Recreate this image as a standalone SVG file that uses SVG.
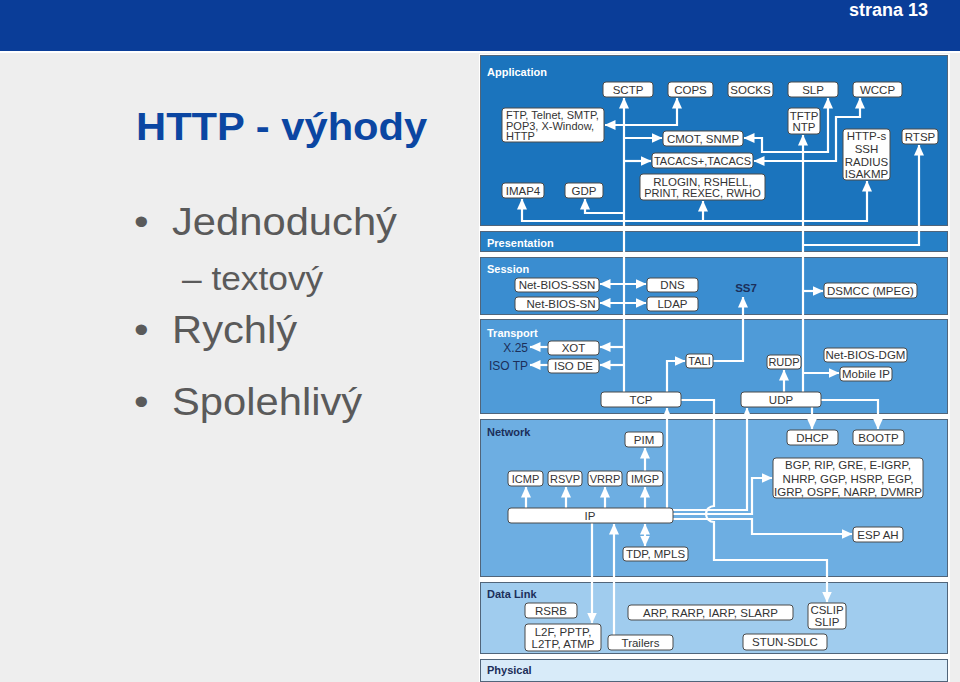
<svg xmlns="http://www.w3.org/2000/svg" width="960" height="682" viewBox="0 0 960 682">
<defs>
<marker id="ah" markerUnits="userSpaceOnUse" markerWidth="11" markerHeight="10" refX="10.5" refY="5" orient="auto-start-reverse" viewBox="0 0 11 10"><path d="M0,0 L11,5 L0,10 z" fill="#fff"/></marker>
</defs>
<style>
.lay{stroke:#51657a;stroke-width:1}
.ll{font-family:"Liberation Sans",Arial,sans-serif;font-size:11px;font-weight:bold}
.w{fill:#fff}
.n{fill:#1c2f5a}
.b{fill:#fff;stroke:#4a4a4a;stroke-width:1}
.t{font-family:"Liberation Sans",Arial,sans-serif;font-size:11.5px;fill:#333;text-anchor:middle}
.s{font-size:11px}
.tl{text-anchor:start}
.tr{text-anchor:end;fill:#1c2f5a;font-size:12px}
#connectors path{fill:none;stroke:#fff;stroke-width:2.2}
#connectors path.a{marker-end:url(#ah)}
#connectors path.d{marker-start:url(#ah);marker-end:url(#ah)}
.big{font-family:"Liberation Sans",Arial,sans-serif;fill:#5a5a5a}
</style>
<rect x="0" y="0" width="960" height="682" fill="#eeeeee"/>
<rect x="0" y="0" width="960" height="51" fill="#0a3d98"/>
<rect x="0" y="51" width="960" height="2" fill="#ffffff"/>
<text x="928" y="16" font-family="Liberation Sans, Arial, sans-serif" font-size="18" font-weight="bold" fill="#fff" text-anchor="end">strana 13</text>

<g id="slide-text">
<text transform="translate(136,140) scale(1.07,1)" font-family="Liberation Sans, Arial, sans-serif" font-weight="bold" font-size="39" fill="#0b46a2">HTTP - výhody</text>
<text class="big" transform="translate(134,235) scale(1.07,1)" font-size="39">•</text>
<text class="big" transform="translate(172,235) scale(1.07,1)" font-size="39">Jednoduchý</text>
<text class="big" transform="translate(182,290) scale(1.07,1)" font-size="33">– textový</text>
<text class="big" transform="translate(134,343) scale(1.07,1)" font-size="39">•</text>
<text class="big" transform="translate(172,343) scale(1.07,1)" font-size="39">Rychlý</text>
<text class="big" transform="translate(134,415) scale(1.07,1)" font-size="39">•</text>
<text class="big" transform="translate(172,415) scale(1.07,1)" font-size="39">Spolehlivý</text>
</g>

<g id="layers">
<rect x="479" y="54" width="471" height="628" fill="#ffffff"/>
<rect class="lay" x="480.5" y="55.5" width="467" height="170" fill="#1b74bd"/>
<rect class="lay" x="480.5" y="231.5" width="467" height="20" fill="#2680c6"/>
<rect class="lay" x="480.5" y="257.5" width="467" height="57" fill="#3a8dd0"/>
<rect class="lay" x="480.5" y="319.5" width="467" height="94" fill="#4f9bd8"/>
<rect class="lay" x="480.5" y="419.5" width="467" height="157" fill="#6daee2"/>
<rect class="lay" x="480.5" y="582.5" width="467" height="71" fill="#a0ccee"/>
<rect class="lay" x="480.5" y="659.5" width="467" height="22" fill="#d8ebf9"/>
<text class="ll w" x="487" y="76">Application</text>
<text class="ll w" x="487" y="247">Presentation</text>
<text class="ll w" x="487" y="273">Session</text>
<text class="ll w" x="487" y="337">Transport</text>
<text class="ll n" x="487" y="436">Network</text>
<text class="ll n" x="487" y="598">Data Link</text>
<text class="ll n" x="487" y="674">Physical</text>
</g>

<g id="connectors">
<path class="a" d="M624,392 V98"/>
<path class="d" d="M605,125 H677 V98"/>
<path class="a" d="M624,138 H662"/>
<path class="a" d="M624,161 H651"/>
<path class="a" d="M624,213 H585 V199"/>
<path class="d" d="M522,199 V221 H867 V181"/>
<path class="a" d="M703,221 V201"/>
<path class="d" d="M744,138 H762 V152 H828 V98"/>
<path class="d" d="M754,161 H836 V117 H860 V98"/>
<path class="a" d="M803,392 V135"/>
<path class="a" d="M803,245 H919 V145"/>
<path class="d" d="M600,284 H646"/>
<path class="d" d="M600,303 H646"/>
<path class="a" d="M803,291 H823"/>
<path class="a" d="M624,347 H600"/>
<path class="a" d="M548,347 H530"/>
<path class="a" d="M624,365 H600"/>
<path class="a" d="M548,365 H530"/>
<path class="a" d="M667,392 V361 H685"/>
<path class="a" d="M713,361 H743 V297"/>
<path class="a" d="M784,392 V370"/>
<path class="a" d="M803,373 H839"/>
<path class="a" d="M667,508 V408"/>
<path class="a" d="M673,510 H747 V408"/>
<path class="a" d="M812,407 V429"/>
<path class="a" d="M821,400 H878 V429"/>
<path class="a" d="M681,400 H714 V506 A8,8 0 0 0 714,522 V560 H827 V602"/>
<path class="a" d="M673,514 H752 V478 H772"/>
<path class="a" d="M673,519 H752 V534 H852"/>
<path class="a" d="M526,508 V487"/>
<path class="a" d="M566,508 V487"/>
<path class="a" d="M605,508 V487"/>
<path class="a" d="M645,508 V487"/>
<path class="a" d="M645,471 V448"/>
<path class="d" d="M645,524 V546"/>
<path class="a" d="M592,523 V623"/>
<path class="a" d="M614,635 V524"/>
</g>

<g id="n-sctp"><rect class="b" x="603" y="82" width="50" height="15" rx="3"/><text class="t" x="628" y="93.5">SCTP</text></g>
<g id="n-cops"><rect class="b" x="668" y="82" width="45" height="15" rx="3"/><text class="t" x="690.5" y="93.5">COPS</text></g>
<g id="n-socks"><rect class="b" x="728" y="82" width="45" height="15" rx="3"/><text class="t" x="750.5" y="93.5">SOCKS</text></g>
<g id="n-slp"><rect class="b" x="788" y="82" width="50" height="15" rx="3"/><text class="t" x="813" y="93.5">SLP</text></g>
<g id="n-wccp"><rect class="b" x="853" y="82" width="49" height="15" rx="3"/><text class="t" x="877.5" y="93.5">WCCP</text></g>
<g id="n-ftp"><rect class="b" x="502" y="108" width="102" height="34" rx="3"/><text class="t tl s" x="506" y="118.5">FTP, Telnet, SMTP,</text><text class="t tl s" x="506" y="129.5">POP3, X-Window,</text><text class="t tl s" x="506" y="140">HTTP</text></g>
<g id="n-cmot"><rect class="b" x="663" y="131" width="80" height="15" rx="3"/><text class="t" x="703" y="142.5">CMOT, SNMP</text></g>
<g id="n-tacacs"><rect class="b" x="652" y="153" width="101" height="15" rx="3"/><text class="t s" x="702.5" y="164.5">TACACS+,TACACS</text></g>
<g id="n-rlogin"><rect class="b" x="640" y="174" width="125" height="26" rx="3"/><text class="t" x="702.5" y="185.5">RLOGIN, RSHELL,</text><text class="t s" x="702.5" y="197">PRINT, REXEC, RWHO</text></g>
<g id="n-imap4"><rect class="b" x="502" y="183" width="42" height="15" rx="3"/><text class="t" x="523" y="194.5">IMAP4</text></g>
<g id="n-gdp"><rect class="b" x="565" y="183" width="38" height="15" rx="3"/><text class="t" x="584" y="194.5">GDP</text></g>
<g id="n-tftp"><rect class="b" x="788" y="108" width="32" height="26" rx="3"/><text class="t" x="804" y="119.5">TFTP</text><text class="t" x="804" y="131">NTP</text></g>
<g id="n-https"><rect class="b" x="843" y="129" width="47" height="51" rx="3"/><text class="t" x="866.5" y="139.5">HTTP-s</text><text class="t" x="866.5" y="152.5">SSH</text><text class="t" x="866.5" y="165.5">RADIUS</text><text class="t" x="866.5" y="178">ISAKMP</text></g>
<g id="n-rtsp"><rect class="b" x="902" y="129" width="36" height="15" rx="3"/><text class="t" x="920" y="140.5">RTSP</text></g>

<g id="n-nbssn"><rect class="b" x="515" y="278" width="84" height="14" rx="3"/><text class="t" x="557" y="289">Net-BIOS-SSN</text></g>
<g id="n-dns"><rect class="b" x="647" y="278" width="51" height="14" rx="3"/><text class="t" x="672.5" y="289">DNS</text></g>
<g id="n-nbsn"><rect class="b" x="515" y="297" width="84" height="14" rx="3"/><text class="t" x="561" y="308">Net-BIOS-SN</text></g>
<g id="n-ldap"><rect class="b" x="647" y="297" width="51" height="14" rx="3"/><text class="t" x="672.5" y="308">LDAP</text></g>
<g id="n-ss7"><text class="t" x="746" y="292" style="fill:#1c2f5a;font-weight:bold;font-size:11.5px">SS7</text></g>
<g id="n-dsmcc"><rect class="b" x="824" y="283" width="93" height="15" rx="3"/><text class="t" x="870.5" y="294.5">DSMCC (MPEG)</text></g>

<g id="n-x25"><text class="t tr" x="528" y="352">X.25</text></g>
<g id="n-isotp"><text class="t tr" x="528" y="370">ISO TP</text></g>
<g id="n-xot"><rect class="b" x="548" y="341" width="51" height="14" rx="3"/><text class="t" x="573.5" y="352">XOT</text></g>
<g id="n-isode"><rect class="b" x="548" y="359" width="51" height="14" rx="3"/><text class="t" x="573.5" y="370">ISO DE</text></g>
<g id="n-tali"><rect class="b" x="686" y="354" width="27" height="14" rx="3"/><text class="t s" x="699.5" y="365">TALI</text></g>
<g id="n-rudp"><rect class="b" x="767" y="355" width="34" height="14" rx="3"/><text class="t s" x="784" y="366">RUDP</text></g>
<g id="n-nbdgm"><rect class="b" x="824" y="348" width="83" height="14" rx="3"/><text class="t" x="865.5" y="359">Net-BIOS-DGM</text></g>
<g id="n-mobileip"><rect class="b" x="840" y="367" width="52" height="14" rx="3"/><text class="t" x="866" y="378">Mobile IP</text></g>
<g id="n-tcp"><rect class="b" x="601" y="392" width="80" height="15" rx="3"/><text class="t" x="641" y="403.5">TCP</text></g>
<g id="n-udp"><rect class="b" x="741" y="392" width="80" height="15" rx="3"/><text class="t" x="781" y="403.5">UDP</text></g>

<g id="n-pim"><rect class="b" x="625" y="432" width="38" height="15" rx="3"/><text class="t" x="644" y="443.5">PIM</text></g>
<g id="n-dhcp"><rect class="b" x="787" y="430" width="51" height="15" rx="3"/><text class="t" x="812.5" y="441.5">DHCP</text></g>
<g id="n-bootp"><rect class="b" x="853" y="430" width="51" height="15" rx="3"/><text class="t" x="878.5" y="441.5">BOOTP</text></g>
<g id="n-bgp"><rect class="b" x="773" y="458" width="150" height="40" rx="3"/><text class="t" x="848" y="469">BGP, RIP, GRE, E-IGRP,</text><text class="t" x="848" y="482.5">NHRP, GGP, HSRP, EGP,</text><text class="t" x="848" y="495.5">IGRP, OSPF, NARP, DVMRP</text></g>
<g id="n-icmp"><rect class="b" x="508" y="471" width="35" height="15" rx="3"/><text class="t s" x="525.5" y="482.5">ICMP</text></g>
<g id="n-rsvp"><rect class="b" x="548" y="471" width="34" height="15" rx="3"/><text class="t s" x="565" y="482.5">RSVP</text></g>
<g id="n-vrrp"><rect class="b" x="588" y="471" width="34" height="15" rx="3"/><text class="t s" x="605" y="482.5">VRRP</text></g>
<g id="n-imgp"><rect class="b" x="627" y="471" width="36" height="15" rx="3"/><text class="t s" x="645" y="482.5">IMGP</text></g>
<g id="n-ip"><rect class="b" x="508" y="508" width="165" height="15" rx="3"/><text class="t" x="590" y="519.5">IP</text></g>
<g id="n-espah"><rect class="b" x="853" y="527" width="50" height="15" rx="3"/><text class="t" x="878" y="538.5">ESP AH</text></g>
<g id="n-tdp"><rect class="b" x="623" y="547" width="65" height="14" rx="3"/><text class="t" x="655.5" y="558">TDP, MPLS</text></g>

<g id="n-rsrb"><rect class="b" x="525" y="603" width="52" height="15" rx="3"/><text class="t" x="551" y="614.5">RSRB</text></g>
<g id="n-l2f"><rect class="b" x="525" y="624" width="76" height="27" rx="3"/><text class="t" x="563" y="636">L2F, PPTP,</text><text class="t" x="563" y="648">L2TP, ATMP</text></g>
<g id="n-trailers"><rect class="b" x="608" y="635" width="65" height="15" rx="3"/><text class="t" x="640.5" y="646.5">Trailers</text></g>
<g id="n-arp"><rect class="b" x="628" y="605" width="165" height="15" rx="3"/><text class="t" x="710.5" y="616.5">ARP, RARP, IARP, SLARP</text></g>
<g id="n-cslip"><rect class="b" x="808" y="603" width="38" height="26" rx="3"/><text class="t" x="827" y="614">CSLIP</text><text class="t" x="827" y="626">SLIP</text></g>
<g id="n-stun"><rect class="b" x="743" y="634" width="84" height="16" rx="3"/><text class="t" x="785" y="646">STUN-SDLC</text></g>
</svg>
